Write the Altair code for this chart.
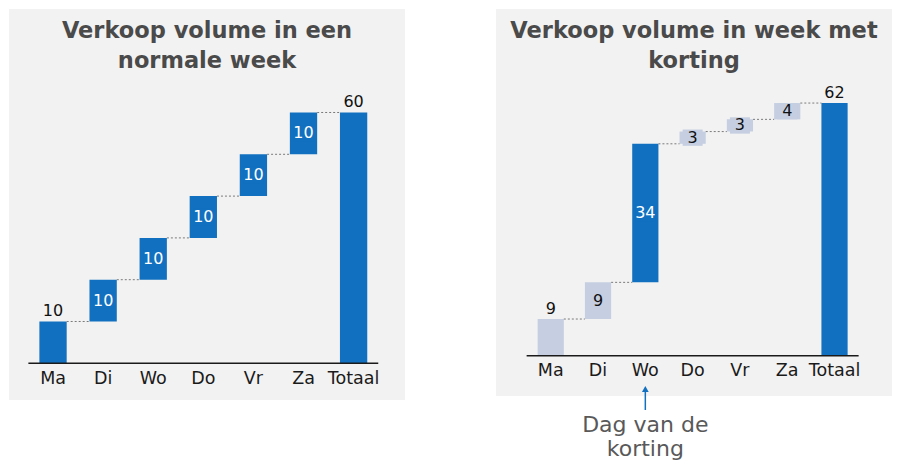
import altair as alt
import pandas as pd

# ---- data ----
dagen = ["Ma", "Di", "Wo", "Do", "Vr", "Za"]
totaal_naam = "Totaal"
normale_week = [10, 10, 10, 10, 10, 10]
korting_week = [9, 9, 34, 3, 3, 4]
kortingsdag = "Wo"
titel_links = ["Verkoop volume in een", "normale week"]
titel_rechts = ["Verkoop volume in week met", "korting"]
annotatie = ["Dag van de", "korting"]

# ---- style ----
BLAUW = "#1170BF"
LICHT = "#C5CFE1"
ACHTERGROND = "#F2F2F2"
FONT = "DejaVu Sans"
TITELFONT = "DejaVu Sans"
categorieen = dagen + [totaal_naam]


def bouw_tabel(waarden, accent):
    rows = []
    cum = 0
    for i, (d, v) in enumerate(zip(dagen, waarden)):
        start, eind = cum, cum + v
        cum = eind
        soort = "blauw" if (accent is None or d == accent) else "licht"
        pos = "boven" if i == 0 else "in"
        rows.append(dict(cat=d, start=start, eind=eind, waarde=v, soort=soort,
                         pos=pos, volgende=categorieen[i + 1]))
    rows.append(dict(cat=totaal_naam, start=0, eind=cum, waarde=cum, soort="blauw",
                     pos="boven", volgende=None))
    df = pd.DataFrame(rows)
    df["midden"] = (df["start"] + df["eind"]) / 2
    df["label_y"] = [r.eind if r.pos == "boven" else r.midden for r in df.itertuples()]
    df["nul"] = 0
    return df


def paneel(waarden, accent, titel, breedte, hoogte, ydomein, pin, pout, align,
           label_dy, met_annotatie=False):
    df = bouw_tabel(waarden, accent)
    xs = alt.Scale(domain=categorieen, paddingInner=pin, paddingOuter=pout, align=align)
    ys = alt.Scale(domain=ydomein, nice=False, zero=False)
    kleur = alt.Scale(domain=["blauw", "licht"], range=[BLAUW, LICHT])

    def X(**kw):
        return alt.X("cat:N", scale=xs, axis=None, sort=categorieen, **kw)

    def Y(f):
        return alt.Y(f, scale=ys, axis=None)

    base = alt.Chart(df)
    bars = base.mark_bar().encode(
        x=X(), y=Y("start:Q"), y2="eind:Q",
        color=alt.Color("soort:N", scale=kleur, legend=None))
    bg = base.transform_filter("datum.pos == 'in'").transform_calculate(
        b0="datum.midden - 2", b1="datum.midden + 2").mark_bar(size=20).encode(
        x=X(), y=Y("b0:Q"), y2="b1:Q",
        color=alt.Color("soort:N", scale=kleur, legend=None))
    connectors = base.transform_filter("datum.volgende != null").mark_rule(
        strokeDash=[2, 2], color="#7a7a7a", strokeWidth=1).encode(
        x=alt.X("cat:N", scale=xs, axis=None, bandPosition=1),
        x2=alt.X2("volgende:N", bandPosition=0),
        y=Y("eind:Q"))
    basislijn_df = pd.DataFrame({"a": [categorieen[0]], "b": [categorieen[-1]], "nul": [0]})
    basislijn = alt.Chart(basislijn_df).mark_rule(
        color="#1a1a1a", strokeWidth=1.6, xOffset=-11, x2Offset=11).encode(
        x=alt.X("a:N", scale=xs, axis=None, bandPosition=0),
        x2=alt.X2("b:N", bandPosition=1),
        y=Y("nul:Q"))
    cat_labels = base.mark_text(font=FONT, fontSize=17.5, baseline="middle",
                                dy=label_dy, color="#1a1a1a").encode(
        x=X(), y=Y("nul:Q"), text="cat:N")
    boven = base.transform_filter("datum.pos == 'boven'").mark_text(
        font=FONT, fontSize=16, baseline="alphabetic", dy=-5, color="#111111").encode(
        x=X(), y=Y("label_y:Q"), text="waarde:Q")
    binnen = base.transform_filter("datum.pos == 'in'").mark_text(
        font=FONT, fontSize=16, baseline="middle").encode(
        x=X(), y=Y("label_y:Q"), text="waarde:Q",
        color=alt.condition("datum.soort == 'blauw'", alt.value("white"), alt.value("#111111")))
    titel_df = pd.DataFrame({"t": ["\n".join(titel)]})
    titel_mark = alt.Chart(titel_df).mark_text(
        font=TITELFONT, fontSize=22.5, fontWeight="bold", color="#4a4a4a",
        baseline="alphabetic", align="center", lineBreak="\n", lineHeight=30).encode(
        x=alt.value(breedte / 2), y=alt.value(29), text="t:N")

    lagen = [bars, bg, connectors, basislijn, cat_labels, boven, binnen, titel_mark]

    if met_annotatie:
        ann_df = pd.DataFrame({"cat": [kortingsdag], "t": ["\n".join(annotatie)]})
        ann = alt.Chart(ann_df)
        pijl = ann.mark_rule(color=BLAUW, strokeWidth=1.5).encode(
            x=X(), y=alt.value(380), y2=alt.value(401))
        kop = ann.mark_point(shape="triangle-up", filled=True, size=45, color=BLAUW,
                             opacity=1).encode(x=X(), y=alt.value(380))
        tekst = ann.mark_text(font=FONT, fontSize=22, color="#595959",
                              baseline="alphabetic", lineBreak="\n", lineHeight=24).encode(
            x=X(), y=alt.value(423), text="t:N")
        lagen += [pijl, kop, tekst]

    return alt.layer(*lagen).properties(width=breedte, height=hoogte)


links = paneel(normale_week, None, titel_links, 396, 391, [-8.78, 84.76],
               0.455, 0.68, 0.446, 16)
rechts = paneel(korting_week, kortingsdag, titel_rechts, 396, 387, [-9.89, 85.08],
                0.446, 0.909, 0.484, 15, met_annotatie=True)

chart = alt.hconcat(links, rechts, spacing=91).properties(
    padding={"left": 1, "top": 1, "right": 0, "bottom": 0},
    background="white",
).configure_view(fill=ACHTERGROND, strokeWidth=0)

chart.save("out.html", embed_options={"renderer": "svg", "actions": False})
